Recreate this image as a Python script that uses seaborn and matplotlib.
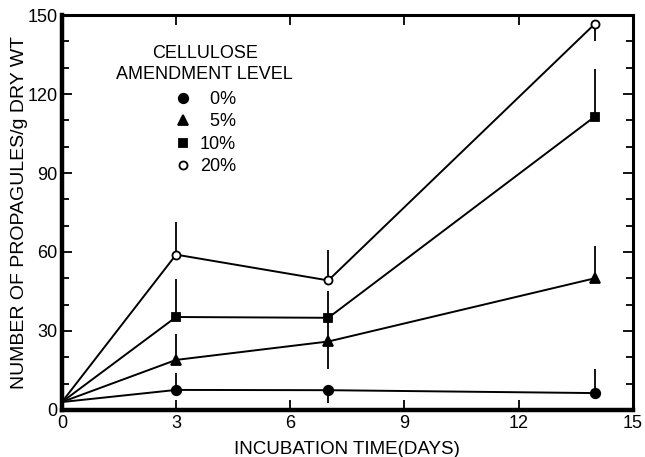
import numpy as np
import pandas as pd
import seaborn as sns
import matplotlib
matplotlib.use("Agg")
import matplotlib.pyplot as plt
from matplotlib.lines import Line2D
from matplotlib.ticker import MultipleLocator

# ---- data ----
days = [0, 3, 7, 14]
levels = ["0%", "5%", "10%", "20%"]
prop_0 = [3, 7.6, 7.5, 6.4]
prop_5 = [3, 19, 26, 50]
prop_10 = [3, 35.3, 35, 111.4]
prop_20 = [3, 59, 49.2, 146.6]
# one-sided error bars (lower, upper)
err_lo_0 = [0, 0, 5, 0]
err_hi_0 = [0, 6.4, 0, 9.1]
err_lo_5 = [0, 0, 10.4, 0]
err_hi_5 = [0, 9.9, 9, 12.2]
err_lo_10 = [0, 0, 0, 0]
err_hi_10 = [0, 14.4, 10.3, 18.3]
err_lo_20 = [0, 0, 0, 6.6]
err_hi_20 = [0, 12.3, 11.4, 0]
x_ticks = [0, 3, 6, 9, 12, 15]
y_ticks = [0, 30, 60, 90, 120, 150]

sns.set_theme(style="ticks")
plt.rcParams["font.family"] = ["Liberation Sans", "DejaVu Sans"]
plt.rcParams["text.color"] = "black"
plt.rcParams["axes.labelcolor"] = "black"

fig = plt.figure(figsize=(6.45, 4.57), dpi=100)
ax = fig.add_axes([0.096, 0.103, 0.885, 0.864])

series = [
    (prop_0, err_lo_0, err_hi_0, "o", "black", 6.8),
    (prop_5, err_lo_5, err_hi_5, "^", "black", 6.5),
    (prop_10, err_lo_10, err_hi_10, "s", "black", 5.3),
    (prop_20, err_lo_20, err_hi_20, "o", "white", 5.8),
]

for (vals, lo, hi, mk, fc, ms), lab in zip(series, levels):
    df = pd.DataFrame({"day": days, "val": vals})
    ax.errorbar(days, vals, yerr=[lo, hi], fmt="none", ecolor="black",
                elinewidth=1.3, capsize=0, zorder=1)
    sns.lineplot(data=df, x="day", y="val", ax=ax, color="black", lw=1.4,
                 marker=mk, markersize=ms, markerfacecolor=fc,
                 markeredgecolor="black", markeredgewidth=1.3,
                 markevery=[1, 2, 3], zorder=3, legend=False)

ax.set_xlim(0, 15)
ax.set_ylim(0, 150)
ax.set_xticks(x_ticks)
ax.set_yticks(y_ticks)
ax.yaxis.set_minor_locator(MultipleLocator(10))
ax.tick_params(axis="both", which="both", direction="in", top=True, right=True,
               labelsize=13, colors="black", pad=3)
ax.tick_params(axis="both", which="major", length=7, width=1.3)
ax.tick_params(axis="y", which="minor", length=5, width=1.3)
ax.tick_params(axis="x", which="major", pad=4)

for s in ["left", "bottom"]:
    ax.spines[s].set_linewidth(3.2)
for s in ["top", "right"]:
    ax.spines[s].set_linewidth(2.2)
for s in ax.spines.values():
    s.set_color("black")

ax.set_xlabel("INCUBATION TIME(DAYS)", fontsize=13.5, labelpad=6)
ax.set_ylabel("NUMBER OF PROPAGULES/g DRY WT", fontsize=14, labelpad=0)

handles = []
for (vals, lo, hi, mk, fc, ms), lab in zip(series, levels):
    handles.append(Line2D([], [], linestyle="none", marker=mk, markersize=ms,
                          markerfacecolor=fc, markeredgecolor="black",
                          markeredgewidth=1.3))
labels = ["  0%", "  5%", "10%", "20%"]
leg = ax.legend(handles, labels, title="CELLULOSE\nAMENDMENT LEVEL",
                loc="upper center", bbox_to_anchor=(0.25, 0.943), frameon=False,
                fontsize=13, title_fontsize=13, handlelength=1.0,
                handletextpad=0.45, labelspacing=0.3, borderaxespad=0,
                labelcolor="black")
leg.get_title().set_multialignment("center")
leg.get_title().set_linespacing(1.3)
leg.get_title().set_color("black")
leg._legend_box.sep = 6

fig.savefig("out.png", dpi=100)
